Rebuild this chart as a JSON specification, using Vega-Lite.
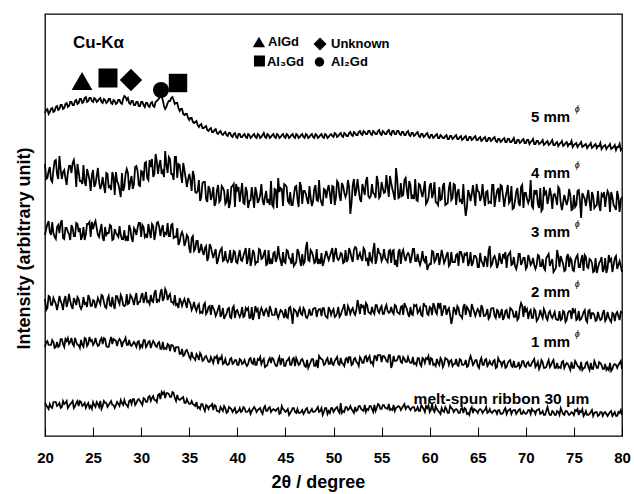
{
  "$schema": "https://vega.github.io/schema/vega-lite/v6.json",
  "width": 577,
  "height": 422,
  "autosize": {"type": "none"},
  "padding": {"left": 45, "top": 14, "right": 12, "bottom": 58},
  "config": {
    "view": {"stroke": "#000", "strokeWidth": 1.3},
    "font": "Liberation Sans"
  },
  "datasets": {
    "xrd": [
      {"x":20.00,"a":323,"b":272,"c":201,"d":137,"e":89,"f":33},
      {"x":20.25,"a":327,"b":258,"c":212,"d":128,"e":95,"f":29},
      {"x":20.50,"a":324,"b":269,"c":204,"d":139,"e":91,"f":32},
      {"x":20.75,"a":328,"b":254,"c":214,"d":131,"e":96,"f":28},
      {"x":21.00,"a":325,"b":275,"c":199,"d":135,"e":88,"f":34},
      {"x":21.25,"a":330,"b":262,"c":209,"d":126,"e":94,"f":30},
      {"x":21.50,"a":327,"b":280,"c":203,"d":140,"e":90,"f":33},
      {"x":21.75,"a":331,"b":257,"c":216,"d":132,"e":97,"f":29},
      {"x":22.00,"a":328,"b":266,"c":197,"d":136,"e":89,"f":32},
      {"x":22.25,"a":333,"b":251,"c":208,"d":129,"e":95,"f":35},
      {"x":22.50,"a":330,"b":270,"c":202,"d":142,"e":92,"f":30},
      {"x":22.75,"a":334,"b":263,"c":211,"d":130,"e":98,"f":33},
      {"x":23.00,"a":331,"b":276,"c":200,"d":138,"e":90,"f":28},
      {"x":23.25,"a":336,"b":249,"c":213,"d":131,"e":94,"f":33},
      {"x":23.50,"a":333,"b":264,"c":204,"d":137,"e":91,"f":30},
      {"x":23.75,"a":337,"b":255,"c":196,"d":127,"e":96,"f":34},
      {"x":24.00,"a":334,"b":271,"c":209,"d":139,"e":89,"f":31},
      {"x":24.25,"a":339,"b":250,"c":202,"d":133,"e":97,"f":28},
      {"x":24.50,"a":335,"b":262,"c":212,"d":141,"e":92,"f":33},
      {"x":24.75,"a":338,"b":245,"c":199,"d":130,"e":95,"f":30},
      {"x":25.00,"a":334,"b":266,"c":207,"d":136,"e":91,"f":34},
      {"x":25.25,"a":337,"b":252,"c":215,"d":128,"e":98,"f":29},
      {"x":25.50,"a":335,"b":268,"c":201,"d":138,"e":90,"f":32},
      {"x":25.75,"a":338,"b":247,"c":206,"d":132,"e":96,"f":35},
      {"x":26.00,"a":333,"b":259,"c":198,"d":140,"e":92,"f":30},
      {"x":26.25,"a":336,"b":243,"c":209,"d":129,"e":97,"f":33},
      {"x":26.50,"a":334,"b":262,"c":203,"d":137,"e":89,"f":29},
      {"x":26.75,"a":337,"b":250,"c":211,"d":131,"e":95,"f":33},
      {"x":27.00,"a":332,"b":264,"c":196,"d":139,"e":92,"f":31},
      {"x":27.25,"a":335,"b":241,"c":207,"d":127,"e":96,"f":28},
      {"x":27.50,"a":333,"b":255,"c":201,"d":140,"e":90,"f":34},
      {"x":27.75,"a":336,"b":246,"c":210,"d":132,"e":97,"f":30},
      {"x":28.00,"a":332,"b":263,"c":197,"d":138,"e":89,"f":33},
      {"x":28.25,"a":340,"b":249,"c":206,"d":130,"e":95,"f":36},
      {"x":28.50,"a":336,"b":267,"c":200,"d":142,"e":91,"f":31},
      {"x":28.75,"a":333,"b":246,"c":211,"d":133,"e":96,"f":35},
      {"x":29.00,"a":335,"b":260,"c":198,"d":139,"e":90,"f":32},
      {"x":29.25,"a":331,"b":252,"c":208,"d":131,"e":94,"f":37},
      {"x":29.50,"a":334,"b":270,"c":201,"d":143,"e":89,"f":33},
      {"x":29.75,"a":330,"b":251,"c":213,"d":134,"e":95,"f":37},
      {"x":30.00,"a":334,"b":265,"c":199,"d":140,"e":91,"f":33},
      {"x":30.25,"a":331,"b":255,"c":209,"d":133,"e":96,"f":38},
      {"x":30.50,"a":333,"b":274,"c":201,"d":144,"e":89,"f":34},
      {"x":30.75,"a":330,"b":256,"c":212,"d":135,"e":94,"f":39},
      {"x":31.00,"a":333,"b":269,"c":198,"d":141,"e":88,"f":35},
      {"x":31.25,"a":330,"b":259,"c":210,"d":134,"e":95,"f":40},
      {"x":31.50,"a":334,"b":282,"c":203,"d":146,"e":90,"f":36},
      {"x":31.75,"a":336,"b":262,"c":214,"d":136,"e":93,"f":41},
      {"x":32.00,"a":340,"b":276,"c":200,"d":143,"e":87,"f":37},
      {"x":32.25,"a":336,"b":265,"c":211,"d":135,"e":94,"f":42},
      {"x":32.50,"a":327,"b":285,"c":203,"d":147,"e":88,"f":38},
      {"x":32.75,"a":333,"b":263,"c":213,"d":136,"e":92,"f":43},
      {"x":33.00,"a":335,"b":277,"c":200,"d":142,"e":85,"f":39},
      {"x":33.25,"a":339,"b":262,"c":212,"d":134,"e":91,"f":44},
      {"x":33.50,"a":332,"b":279,"c":199,"d":141,"e":84,"f":38},
      {"x":33.75,"a":333,"b":258,"c":208,"d":132,"e":89,"f":41},
      {"x":34.00,"a":325,"b":271,"c":194,"d":138,"e":82,"f":36},
      {"x":34.25,"a":327,"b":253,"c":204,"d":130,"e":87,"f":38},
      {"x":34.50,"a":321,"b":266,"c":190,"d":137,"e":81,"f":33},
      {"x":34.75,"a":322,"b":249,"c":201,"d":128,"e":86,"f":37},
      {"x":35.00,"a":316,"b":262,"c":188,"d":135,"e":79,"f":32},
      {"x":35.25,"a":318,"b":245,"c":198,"d":126,"e":84,"f":35},
      {"x":35.50,"a":313,"b":260,"c":185,"d":134,"e":78,"f":31},
      {"x":35.75,"a":315,"b":243,"c":195,"d":125,"e":82,"f":34},
      {"x":36.00,"a":309,"b":256,"c":183,"d":132,"e":76,"f":29},
      {"x":36.25,"a":312,"b":239,"c":192,"d":124,"e":81,"f":32},
      {"x":36.50,"a":308,"b":254,"c":181,"d":131,"e":76,"f":28},
      {"x":36.75,"a":310,"b":237,"c":190,"d":122,"e":80,"f":31},
      {"x":37.00,"a":305,"b":250,"c":179,"d":129,"e":74,"f":27},
      {"x":37.25,"a":308,"b":236,"c":189,"d":121,"e":79,"f":30},
      {"x":37.50,"a":304,"b":249,"c":178,"d":128,"e":73,"f":26},
      {"x":37.75,"a":307,"b":233,"c":187,"d":120,"e":78,"f":30},
      {"x":38.00,"a":302,"b":251,"c":176,"d":127,"e":72,"f":25},
      {"x":38.25,"a":305,"b":236,"c":186,"d":119,"e":77,"f":29},
      {"x":38.50,"a":301,"b":248,"c":175,"d":128,"e":72,"f":25},
      {"x":38.75,"a":304,"b":232,"c":185,"d":120,"e":77,"f":28},
      {"x":39.00,"a":300,"b":247,"c":174,"d":127,"e":71,"f":24},
      {"x":39.25,"a":303,"b":233,"c":186,"d":119,"e":77,"f":28},
      {"x":39.50,"a":299,"b":250,"c":176,"d":128,"e":72,"f":24},
      {"x":39.75,"a":303,"b":229,"c":184,"d":118,"e":76,"f":28},
      {"x":40.00,"a":298,"b":246,"c":173,"d":126,"e":71,"f":24},
      {"x":40.25,"a":302,"b":234,"c":186,"d":119,"e":77,"f":28},
      {"x":40.50,"a":299,"b":253,"c":175,"d":129,"e":72,"f":25},
      {"x":40.75,"a":302,"b":232,"c":184,"d":120,"e":76,"f":28},
      {"x":41.00,"a":298,"b":244,"c":172,"d":126,"e":70,"f":24},
      {"x":41.25,"a":301,"b":235,"c":188,"d":118,"e":77,"f":27},
      {"x":41.50,"a":299,"b":249,"c":176,"d":129,"e":73,"f":25},
      {"x":41.75,"a":302,"b":228,"c":183,"d":121,"e":78,"f":29},
      {"x":42.00,"a":298,"b":243,"c":174,"d":125,"e":71,"f":24},
      {"x":42.25,"a":301,"b":236,"c":187,"d":117,"e":76,"f":27},
      {"x":42.50,"a":299,"b":252,"c":177,"d":128,"e":72,"f":24},
      {"x":42.75,"a":303,"b":231,"c":182,"d":120,"e":77,"f":28},
      {"x":43.00,"a":298,"b":245,"c":171,"d":127,"e":70,"f":25},
      {"x":43.25,"a":301,"b":237,"c":186,"d":119,"e":76,"f":28},
      {"x":43.50,"a":299,"b":255,"c":176,"d":126,"e":73,"f":24},
      {"x":43.75,"a":302,"b":229,"c":183,"d":121,"e":77,"f":27},
      {"x":44.00,"a":298,"b":246,"c":174,"d":128,"e":70,"f":25},
      {"x":44.25,"a":301,"b":258,"c":190,"d":118,"e":76,"f":28},
      {"x":44.50,"a":299,"b":248,"c":175,"d":126,"e":71,"f":23},
      {"x":44.75,"a":302,"b":230,"c":184,"d":122,"e":77,"f":27},
      {"x":45.00,"a":298,"b":251,"c":173,"d":127,"e":70,"f":24},
      {"x":45.25,"a":301,"b":235,"c":185,"d":118,"e":76,"f":27},
      {"x":45.50,"a":299,"b":244,"c":177,"d":129,"e":71,"f":23},
      {"x":45.75,"a":302,"b":231,"c":183,"d":112,"e":77,"f":28},
      {"x":46.00,"a":298,"b":249,"c":172,"d":126,"e":70,"f":24},
      {"x":46.25,"a":301,"b":237,"c":187,"d":119,"e":75,"f":27},
      {"x":46.50,"a":299,"b":254,"c":176,"d":128,"e":72,"f":23},
      {"x":46.75,"a":302,"b":232,"c":182,"d":121,"e":77,"f":26},
      {"x":47.00,"a":298,"b":245,"c":174,"d":126,"e":70,"f":24},
      {"x":47.25,"a":301,"b":236,"c":194,"d":118,"e":76,"f":28},
      {"x":47.50,"a":299,"b":250,"c":175,"d":127,"e":71,"f":23},
      {"x":47.75,"a":302,"b":230,"c":184,"d":121,"e":77,"f":27},
      {"x":48.00,"a":298,"b":247,"c":173,"d":128,"e":70,"f":24},
      {"x":48.25,"a":301,"b":236,"c":187,"d":119,"e":76,"f":27},
      {"x":48.50,"a":299,"b":256,"c":177,"d":127,"e":80,"f":24},
      {"x":48.75,"a":302,"b":233,"c":183,"d":120,"e":77,"f":28},
      {"x":49.00,"a":298,"b":247,"c":174,"d":128,"e":71,"f":24},
      {"x":49.25,"a":301,"b":238,"c":185,"d":119,"e":76,"f":28},
      {"x":49.50,"a":299,"b":251,"c":176,"d":129,"e":72,"f":25},
      {"x":49.75,"a":302,"b":232,"c":184,"d":121,"e":78,"f":28},
      {"x":50.00,"a":299,"b":249,"c":174,"d":127,"e":71,"f":24},
      {"x":50.25,"a":302,"b":238,"c":188,"d":120,"e":77,"f":28},
      {"x":50.50,"a":300,"b":253,"c":176,"d":129,"e":72,"f":25},
      {"x":50.75,"a":303,"b":235,"c":183,"d":121,"e":78,"f":33},
      {"x":51.00,"a":299,"b":250,"c":173,"d":128,"e":72,"f":25},
      {"x":51.25,"a":302,"b":239,"c":186,"d":121,"e":77,"f":29},
      {"x":51.50,"a":300,"b":256,"c":177,"d":130,"e":73,"f":26},
      {"x":51.75,"a":304,"b":222,"c":184,"d":122,"e":79,"f":30},
      {"x":52.00,"a":300,"b":251,"c":174,"d":128,"e":72,"f":25},
      {"x":52.25,"a":303,"b":240,"c":189,"d":121,"e":78,"f":29},
      {"x":52.50,"a":301,"b":257,"c":176,"d":136,"e":73,"f":26},
      {"x":52.75,"a":305,"b":237,"c":183,"d":122,"e":79,"f":30},
      {"x":53.00,"a":301,"b":252,"c":175,"d":129,"e":73,"f":26},
      {"x":53.25,"a":304,"b":241,"c":186,"d":121,"e":79,"f":31},
      {"x":53.50,"a":302,"b":259,"c":177,"d":131,"e":74,"f":27},
      {"x":53.75,"a":305,"b":238,"c":184,"d":123,"e":80,"f":30},
      {"x":54.00,"a":301,"b":252,"c":174,"d":129,"e":74,"f":27},
      {"x":54.25,"a":304,"b":242,"c":193,"d":122,"e":80,"f":31},
      {"x":54.50,"a":302,"b":260,"c":177,"d":131,"e":75,"f":28},
      {"x":54.75,"a":306,"b":238,"c":183,"d":123,"e":81,"f":31},
      {"x":55.00,"a":301,"b":254,"c":175,"d":130,"e":74,"f":27},
      {"x":55.25,"a":304,"b":243,"c":187,"d":122,"e":80,"f":31},
      {"x":55.50,"a":302,"b":261,"c":176,"d":131,"e":75,"f":28},
      {"x":55.75,"a":306,"b":239,"c":185,"d":123,"e":81,"f":32},
      {"x":56.00,"a":301,"b":253,"c":173,"d":129,"e":68,"f":27},
      {"x":56.25,"a":305,"b":242,"c":186,"d":122,"e":80,"f":31},
      {"x":56.50,"a":302,"b":268,"c":176,"d":130,"e":75,"f":28},
      {"x":56.75,"a":305,"b":238,"c":184,"d":123,"e":80,"f":30},
      {"x":57.00,"a":301,"b":253,"c":172,"d":129,"e":74,"f":26},
      {"x":57.25,"a":304,"b":241,"c":186,"d":121,"e":79,"f":30},
      {"x":57.50,"a":301,"b":258,"c":175,"d":130,"e":74,"f":27},
      {"x":57.75,"a":305,"b":237,"c":183,"d":122,"e":79,"f":30},
      {"x":58.00,"a":300,"b":251,"c":173,"d":129,"e":73,"f":26},
      {"x":58.25,"a":303,"b":240,"c":187,"d":121,"e":79,"f":29},
      {"x":58.50,"a":301,"b":257,"c":175,"d":130,"e":73,"f":25},
      {"x":58.75,"a":304,"b":235,"c":182,"d":123,"e":78,"f":29},
      {"x":59.00,"a":299,"b":251,"c":171,"d":128,"e":72,"f":25},
      {"x":59.25,"a":302,"b":239,"c":185,"d":120,"e":78,"f":29},
      {"x":59.50,"a":300,"b":255,"c":174,"d":130,"e":73,"f":24},
      {"x":59.75,"a":303,"b":234,"c":166,"d":122,"e":77,"f":28},
      {"x":60.00,"a":298,"b":250,"c":172,"d":129,"e":71,"f":24},
      {"x":60.25,"a":301,"b":238,"c":185,"d":121,"e":77,"f":32},
      {"x":60.50,"a":299,"b":254,"c":174,"d":130,"e":72,"f":24},
      {"x":60.75,"a":302,"b":233,"c":182,"d":122,"e":77,"f":27},
      {"x":61.00,"a":298,"b":249,"c":171,"d":129,"e":71,"f":24},
      {"x":61.25,"a":300,"b":237,"c":186,"d":120,"e":76,"f":28},
      {"x":61.50,"a":298,"b":253,"c":173,"d":130,"e":72,"f":24},
      {"x":61.75,"a":301,"b":232,"c":181,"d":121,"e":77,"f":27},
      {"x":62.00,"a":297,"b":248,"c":170,"d":128,"e":71,"f":23},
      {"x":62.25,"a":300,"b":236,"c":184,"d":112,"e":76,"f":28},
      {"x":62.50,"a":298,"b":252,"c":174,"d":129,"e":72,"f":24},
      {"x":62.75,"a":301,"b":231,"c":181,"d":121,"e":77,"f":27},
      {"x":63.00,"a":297,"b":247,"c":170,"d":128,"e":70,"f":23},
      {"x":63.25,"a":300,"b":236,"c":184,"d":120,"e":76,"f":27},
      {"x":63.50,"a":297,"b":252,"c":173,"d":129,"e":71,"f":23},
      {"x":63.75,"a":300,"b":220,"c":181,"d":121,"e":76,"f":27},
      {"x":64.00,"a":296,"b":246,"c":170,"d":127,"e":70,"f":23},
      {"x":64.25,"a":299,"b":235,"c":184,"d":119,"e":80,"f":27},
      {"x":64.50,"a":297,"b":251,"c":173,"d":128,"e":71,"f":23},
      {"x":64.75,"a":300,"b":230,"c":180,"d":120,"e":76,"f":26},
      {"x":65.00,"a":296,"b":245,"c":169,"d":127,"e":70,"f":23},
      {"x":65.25,"a":299,"b":235,"c":183,"d":119,"e":75,"f":27},
      {"x":65.50,"a":296,"b":252,"c":173,"d":128,"e":71,"f":23},
      {"x":65.75,"a":299,"b":230,"c":180,"d":120,"e":76,"f":26},
      {"x":66.00,"a":295,"b":245,"c":169,"d":127,"e":70,"f":23},
      {"x":66.25,"a":298,"b":234,"c":190,"d":119,"e":75,"f":27},
      {"x":66.50,"a":296,"b":251,"c":172,"d":128,"e":71,"f":23},
      {"x":66.75,"a":299,"b":229,"c":180,"d":120,"e":76,"f":26},
      {"x":67.00,"a":294,"b":245,"c":168,"d":126,"e":69,"f":22},
      {"x":67.25,"a":297,"b":234,"c":183,"d":118,"e":75,"f":26},
      {"x":67.50,"a":295,"b":250,"c":172,"d":127,"e":70,"f":22},
      {"x":67.75,"a":298,"b":229,"c":179,"d":119,"e":75,"f":26},
      {"x":68.00,"a":294,"b":244,"c":168,"d":126,"e":69,"f":22},
      {"x":68.25,"a":297,"b":233,"c":182,"d":118,"e":75,"f":26},
      {"x":68.50,"a":294,"b":250,"c":171,"d":127,"e":70,"f":22},
      {"x":68.75,"a":298,"b":228,"c":179,"d":119,"e":75,"f":26},
      {"x":69.00,"a":293,"b":244,"c":167,"d":125,"e":69,"f":22},
      {"x":69.25,"a":296,"b":233,"c":182,"d":118,"e":74,"f":26},
      {"x":69.50,"a":294,"b":249,"c":171,"d":133,"e":70,"f":22},
      {"x":69.75,"a":297,"b":228,"c":178,"d":119,"e":75,"f":25},
      {"x":70.00,"a":293,"b":243,"c":167,"d":125,"e":69,"f":22},
      {"x":70.25,"a":296,"b":233,"c":181,"d":117,"e":74,"f":26},
      {"x":70.50,"a":294,"b":256,"c":171,"d":126,"e":70,"f":22},
      {"x":70.75,"a":297,"b":228,"c":178,"d":118,"e":75,"f":25},
      {"x":71.00,"a":292,"b":243,"c":167,"d":125,"e":69,"f":22},
      {"x":71.25,"a":295,"b":232,"c":181,"d":117,"e":74,"f":26},
      {"x":71.50,"a":293,"b":248,"c":170,"d":126,"e":70,"f":22},
      {"x":71.75,"a":296,"b":227,"c":177,"d":118,"e":74,"f":25},
      {"x":72.00,"a":292,"b":242,"c":166,"d":124,"e":68,"f":21},
      {"x":72.25,"a":295,"b":232,"c":180,"d":116,"e":73,"f":29},
      {"x":72.50,"a":292,"b":248,"c":170,"d":125,"e":69,"f":21},
      {"x":72.75,"a":296,"b":227,"c":177,"d":118,"e":74,"f":25},
      {"x":73.00,"a":291,"b":242,"c":166,"d":124,"e":68,"f":21},
      {"x":73.25,"a":294,"b":231,"c":186,"d":116,"e":73,"f":25},
      {"x":73.50,"a":292,"b":247,"c":169,"d":125,"e":69,"f":21},
      {"x":73.75,"a":295,"b":226,"c":176,"d":117,"e":74,"f":25},
      {"x":74.00,"a":291,"b":241,"c":165,"d":124,"e":68,"f":21},
      {"x":74.25,"a":294,"b":231,"c":179,"d":116,"e":73,"f":25},
      {"x":74.50,"a":292,"b":247,"c":169,"d":125,"e":69,"f":21},
      {"x":74.75,"a":295,"b":226,"c":176,"d":117,"e":74,"f":24},
      {"x":75.00,"a":291,"b":241,"c":165,"d":124,"e":68,"f":21},
      {"x":75.25,"a":293,"b":231,"c":179,"d":116,"e":73,"f":25},
      {"x":75.50,"a":291,"b":246,"c":169,"d":125,"e":69,"f":21},
      {"x":75.75,"a":294,"b":218,"c":176,"d":117,"e":74,"f":24},
      {"x":76.00,"a":290,"b":240,"c":165,"d":124,"e":68,"f":20},
      {"x":76.25,"a":292,"b":230,"c":179,"d":116,"e":73,"f":25},
      {"x":76.50,"a":290,"b":246,"c":168,"d":125,"e":69,"f":21},
      {"x":76.75,"a":293,"b":225,"c":176,"d":117,"e":73,"f":24},
      {"x":77.00,"a":289,"b":240,"c":164,"d":123,"e":67,"f":20},
      {"x":77.25,"a":292,"b":230,"c":178,"d":115,"e":72,"f":24},
      {"x":77.50,"a":290,"b":245,"c":168,"d":124,"e":68,"f":20},
      {"x":77.75,"a":293,"b":225,"c":175,"d":116,"e":73,"f":24},
      {"x":78.00,"a":289,"b":240,"c":164,"d":123,"e":67,"f":20},
      {"x":78.25,"a":291,"b":229,"c":178,"d":115,"e":72,"f":24},
      {"x":78.50,"a":289,"b":245,"c":168,"d":124,"e":68,"f":20},
      {"x":78.75,"a":292,"b":224,"c":175,"d":116,"e":73,"f":24},
      {"x":79.00,"a":288,"b":239,"c":164,"d":123,"e":67,"f":20},
      {"x":79.25,"a":291,"b":229,"c":178,"d":115,"e":72,"f":24},
      {"x":79.50,"a":289,"b":245,"c":167,"d":124,"e":68,"f":20},
      {"x":79.75,"a":292,"b":224,"c":175,"d":116,"e":73,"f":23},
      {"x":80.00,"a":288,"b":239,"c":164,"d":123,"e":67,"f":21},
      {"x":20.125,"a":326,"b":257,"c":207,"d":126,"e":94,"f":31},
      {"x":20.375,"a":322,"b":265,"c":215,"d":140,"e":91,"f":27},
      {"x":20.625,"a":327,"b":256,"c":201,"d":131,"e":91,"f":29},
      {"x":20.875,"a":324,"b":266,"c":203,"d":138,"e":94,"f":34},
      {"x":21.125,"a":329,"b":276,"c":197,"d":132,"e":89,"f":34},
      {"x":21.375,"a":326,"b":257,"c":211,"d":132,"e":89,"f":31},
      {"x":21.625,"a":331,"b":267,"c":213,"d":135,"e":97,"f":28},
      {"x":21.875,"a":327,"b":264,"c":198,"d":126,"e":92,"f":35},
      {"x":22.125,"a":332,"b":258,"c":208,"d":140,"e":97,"f":33},
      {"x":22.375,"a":329,"b":263,"c":204,"d":134,"e":98,"f":28},
      {"x":22.625,"a":334,"b":270,"c":196,"d":135,"e":94,"f":32},
      {"x":22.875,"a":331,"b":273,"c":208,"d":127,"e":92,"f":35},
      {"x":23.125,"a":335,"b":267,"c":200,"d":135,"e":98,"f":30},
      {"x":23.375,"a":332,"b":272,"c":212,"d":139,"e":91,"f":35},
      {"x":23.625,"a":337,"b":255,"c":208,"d":130,"e":88,"f":35},
      {"x":23.875,"a":333,"b":252,"c":200,"d":130,"e":91,"f":30},
      {"x":24.125,"a":338,"b":254,"c":196,"d":132,"e":98,"f":33},
      {"x":24.375,"a":334,"b":267,"c":212,"d":129,"e":90,"f":31},
      {"x":24.625,"a":338,"b":256,"c":214,"d":138,"e":99,"f":28},
      {"x":24.875,"a":335,"b":261,"c":214,"d":130,"e":96,"f":27},
      {"x":25.125,"a":338,"b":249,"c":212,"d":135,"e":93,"f":31},
      {"x":25.375,"a":334,"b":260,"c":208,"d":132,"e":93,"f":34},
      {"x":25.625,"a":337,"b":254,"c":199,"d":135,"e":91,"f":29},
      {"x":25.875,"a":334,"b":251,"c":212,"d":141,"e":98,"f":27},
      {"x":26.125,"a":337,"b":250,"c":195,"d":134,"e":98,"f":35},
      {"x":26.375,"a":333,"b":263,"c":201,"d":128,"e":90,"f":33},
      {"x":26.625,"a":337,"b":249,"c":203,"d":140,"e":89,"f":31},
      {"x":26.875,"a":333,"b":246,"c":210,"d":130,"e":99,"f":35},
      {"x":27.125,"a":336,"b":259,"c":197,"d":131,"e":97,"f":31},
      {"x":27.375,"a":332,"b":264,"c":203,"d":140,"e":95,"f":31},
      {"x":27.625,"a":336,"b":252,"c":199,"d":135,"e":95,"f":32},
      {"x":27.875,"a":333,"b":239,"c":201,"d":141,"e":95,"f":36},
      {"x":28.125,"a":337,"b":245,"c":197,"d":131,"e":94,"f":31},
      {"x":28.375,"a":339,"b":262,"c":195,"d":131,"e":98,"f":32},
      {"x":28.625,"a":338,"b":263,"c":195,"d":132,"e":91,"f":29},
      {"x":28.875,"a":332,"b":254,"c":207,"d":141,"e":91,"f":36},
      {"x":29.125,"a":335,"b":247,"c":194,"d":136,"e":92,"f":37},
      {"x":29.375,"a":331,"b":269,"c":206,"d":138,"e":92,"f":31},
      {"x":29.625,"a":334,"b":265,"c":208,"d":131,"e":94,"f":36},
      {"x":29.875,"a":330,"b":250,"c":213,"d":134,"e":88,"f":35},
      {"x":30.125,"a":334,"b":264,"c":211,"d":143,"e":89,"f":31},
      {"x":30.375,"a":329,"b":273,"c":199,"d":137,"e":96,"f":37},
      {"x":30.625,"a":333,"b":258,"c":198,"d":134,"e":91,"f":34},
      {"x":30.875,"a":329,"b":276,"c":204,"d":132,"e":95,"f":40},
      {"x":31.125,"a":334,"b":277,"c":212,"d":135,"e":92,"f":38},
      {"x":31.375,"a":329,"b":262,"c":196,"d":143,"e":93,"f":36},
      {"x":31.625,"a":335,"b":275,"c":213,"d":133,"e":89,"f":34},
      {"x":31.875,"a":338,"b":271,"c":209,"d":135,"e":94,"f":42},
      {"x":32.125,"a":339,"b":262,"c":207,"d":147,"e":87,"f":44},
      {"x":32.375,"a":330,"b":259,"c":199,"d":138,"e":87,"f":44},
      {"x":32.625,"a":329,"b":271,"c":202,"d":144,"e":87,"f":43},
      {"x":32.875,"a":335,"b":279,"c":200,"d":140,"e":91,"f":42},
      {"x":33.125,"a":338,"b":262,"c":211,"d":134,"e":91,"f":39},
      {"x":33.375,"a":336,"b":256,"c":198,"d":132,"e":89,"f":43},
      {"x":33.625,"a":333,"b":279,"c":199,"d":131,"e":89,"f":35},
      {"x":33.875,"a":328,"b":272,"c":191,"d":128,"e":89,"f":37},
      {"x":34.125,"a":327,"b":262,"c":201,"d":135,"e":82,"f":37},
      {"x":34.375,"a":322,"b":273,"c":200,"d":134,"e":80,"f":39},
      {"x":34.625,"a":322,"b":258,"c":194,"d":133,"e":85,"f":33},
      {"x":34.875,"a":318,"b":256,"c":199,"d":138,"e":83,"f":34},
      {"x":35.125,"a":318,"b":256,"c":183,"d":132,"e":77,"f":32},
      {"x":35.375,"a":314,"b":265,"c":200,"d":129,"e":79,"f":32},
      {"x":35.625,"a":314,"b":244,"c":187,"d":128,"e":76,"f":30},
      {"x":35.875,"a":311,"b":245,"c":195,"d":130,"e":80,"f":28},
      {"x":36.125,"a":311,"b":235,"c":186,"d":123,"e":83,"f":27},
      {"x":36.375,"a":308,"b":253,"c":185,"d":123,"e":75,"f":32},
      {"x":36.625,"a":309,"b":254,"c":188,"d":133,"e":79,"f":25},
      {"x":36.875,"a":306,"b":234,"c":175,"d":124,"e":77,"f":30},
      {"x":37.125,"a":307,"b":247,"c":192,"d":130,"e":74,"f":30},
      {"x":37.375,"a":304,"b":241,"c":183,"d":131,"e":76,"f":32},
      {"x":37.625,"a":306,"b":230,"c":183,"d":125,"e":79,"f":31},
      {"x":37.875,"a":303,"b":245,"c":172,"d":123,"e":80,"f":25},
      {"x":38.125,"a":304,"b":234,"c":182,"d":131,"e":78,"f":24},
      {"x":38.375,"a":302,"b":250,"c":188,"d":122,"e":80,"f":27},
      {"x":38.625,"a":303,"b":245,"c":176,"d":117,"e":73,"f":30},
      {"x":38.875,"a":301,"b":234,"c":176,"d":122,"e":72,"f":23},
      {"x":39.125,"a":303,"b":228,"c":177,"d":128,"e":72,"f":29},
      {"x":39.375,"a":300,"b":249,"c":173,"d":118,"e":78,"f":27},
      {"x":39.625,"a":302,"b":252,"c":185,"d":130,"e":73,"f":26},
      {"x":39.875,"a":299,"b":252,"c":174,"d":125,"e":76,"f":23},
      {"x":40.125,"a":302,"b":249,"c":180,"d":122,"e":71,"f":25},
      {"x":40.375,"a":299,"b":244,"c":176,"d":122,"e":76,"f":24},
      {"x":40.625,"a":301,"b":233,"c":180,"d":119,"e":73,"f":29},
      {"x":40.875,"a":299,"b":249,"c":188,"d":128,"e":72,"f":24},
      {"x":41.125,"a":302,"b":228,"c":178,"d":128,"e":72,"f":25},
      {"x":41.375,"a":298,"b":236,"c":170,"d":118,"e":78,"f":22},
      {"x":41.625,"a":301,"b":239,"c":186,"d":116,"e":72,"f":27},
      {"x":41.875,"a":299,"b":249,"c":172,"d":130,"e":71,"f":27},
      {"x":42.125,"a":302,"b":233,"c":174,"d":127,"e":77,"f":26},
      {"x":42.375,"a":298,"b":241,"c":186,"d":124,"e":79,"f":28},
      {"x":42.625,"a":301,"b":236,"c":178,"d":125,"e":75,"f":22},
      {"x":42.875,"a":299,"b":239,"c":186,"d":125,"e":69,"f":30},
      {"x":43.125,"a":302,"b":233,"c":172,"d":124,"e":71,"f":25},
      {"x":43.375,"a":298,"b":231,"c":172,"d":130,"e":78,"f":29},
      {"x":43.625,"a":301,"b":231,"c":172,"d":121,"e":78,"f":26},
      {"x":43.875,"a":299,"b":247,"c":184,"d":121,"e":73,"f":26},
      {"x":44.125,"a":302,"b":228,"c":178,"d":122,"e":70,"f":27},
      {"x":44.375,"a":298,"b":244,"c":180,"d":122,"e":79,"f":22},
      {"x":44.625,"a":301,"b":247,"c":170,"d":125,"e":77,"f":30},
      {"x":44.875,"a":299,"b":252,"c":174,"d":118,"e":70,"f":26},
      {"x":45.125,"a":302,"b":249,"c":186,"d":119,"e":75,"f":25},
      {"x":45.375,"a":298,"b":233,"c":178,"d":128,"e":78,"f":21},
      {"x":45.625,"a":301,"b":231,"c":172,"d":122,"e":71,"f":25},
      {"x":45.875,"a":299,"b":240,"c":170,"d":127,"e":78,"f":28},
      {"x":46.125,"a":302,"b":250,"c":174,"d":124,"e":78,"f":23},
      {"x":46.375,"a":298,"b":229,"c":184,"d":125,"e":71,"f":23},
      {"x":46.625,"a":301,"b":250,"c":170,"d":122,"e":76,"f":24},
      {"x":46.875,"a":299,"b":245,"c":172,"d":128,"e":74,"f":22},
      {"x":47.125,"a":302,"b":242,"c":188,"d":119,"e":69,"f":27},
      {"x":47.375,"a":298,"b":232,"c":176,"d":121,"e":68,"f":23},
      {"x":47.625,"a":301,"b":238,"c":186,"d":121,"e":74,"f":25},
      {"x":47.875,"a":299,"b":235,"c":180,"d":127,"e":77,"f":24},
      {"x":48.125,"a":302,"b":251,"c":174,"d":128,"e":70,"f":25},
      {"x":48.375,"a":298,"b":235,"c":172,"d":125,"e":68,"f":29},
      {"x":48.625,"a":301,"b":238,"c":172,"d":127,"e":78,"f":25},
      {"x":48.875,"a":299,"b":230,"c":170,"d":128,"e":76,"f":21},
      {"x":49.125,"a":302,"b":246,"c":180,"d":121,"e":72,"f":28},
      {"x":49.375,"a":298,"b":246,"c":180,"d":118,"e":78,"f":22},
      {"x":49.625,"a":301,"b":242,"c":180,"d":126,"e":72,"f":23},
      {"x":49.875,"a":300,"b":250,"c":188,"d":125,"e":72,"f":28},
      {"x":50.125,"a":303,"b":231,"c":182,"d":119,"e":75,"f":26},
      {"x":50.375,"a":299,"b":255,"c":178,"d":123,"e":79,"f":29},
      {"x":50.625,"a":302,"b":240,"c":178,"d":119,"e":71,"f":23},
      {"x":50.875,"a":300,"b":253,"c":182,"d":125,"e":73,"f":23},
      {"x":51.125,"a":303,"b":243,"c":174,"d":132,"e":70,"f":24},
      {"x":51.375,"a":300,"b":243,"c":174,"d":121,"e":78,"f":29},
      {"x":51.625,"a":303,"b":249,"c":188,"d":127,"e":79,"f":27},
      {"x":51.875,"a":301,"b":233,"c":178,"d":126,"e":71,"f":27},
      {"x":52.125,"a":304,"b":257,"c":186,"d":123,"e":77,"f":23},
      {"x":52.375,"a":301,"b":246,"c":188,"d":126,"e":74,"f":25},
      {"x":52.625,"a":304,"b":246,"c":180,"d":130,"e":70,"f":30},
      {"x":52.875,"a":302,"b":234,"c":178,"d":132,"e":77,"f":27},
      {"x":53.125,"a":305,"b":247,"c":188,"d":130,"e":73,"f":25},
      {"x":53.375,"a":302,"b":255,"c":176,"d":133,"e":80,"f":24},
      {"x":53.625,"a":305,"b":240,"c":170,"d":124,"e":78,"f":26},
      {"x":53.875,"a":302,"b":240,"c":176,"d":122,"e":73,"f":30},
      {"x":54.125,"a":305,"b":243,"c":186,"d":124,"e":71,"f":24},
      {"x":54.375,"a":302,"b":238,"c":172,"d":131,"e":80,"f":25},
      {"x":54.625,"a":305,"b":254,"c":188,"d":125,"e":81,"f":32},
      {"x":54.875,"a":302,"b":240,"c":182,"d":128,"e":81,"f":27},
      {"x":55.125,"a":305,"b":248,"c":178,"d":122,"e":80,"f":31},
      {"x":55.375,"a":302,"b":244,"c":178,"d":128,"e":78,"f":28},
      {"x":55.625,"a":305,"b":249,"c":174,"d":125,"e":74,"f":27},
      {"x":55.875,"a":302,"b":260,"c":186,"d":124,"e":81,"f":26},
      {"x":56.125,"a":305,"b":247,"c":185,"d":124,"e":72,"f":26},
      {"x":56.375,"a":302,"b":236,"c":171,"d":131,"e":75,"f":25},
      {"x":56.625,"a":305,"b":257,"c":169,"d":124,"e":76,"f":29},
      {"x":56.875,"a":302,"b":239,"c":187,"d":122,"e":80,"f":29},
      {"x":57.125,"a":304,"b":240,"c":183,"d":130,"e":73,"f":28},
      {"x":57.375,"a":301,"b":256,"c":179,"d":133,"e":77,"f":32},
      {"x":57.625,"a":304,"b":246,"c":181,"d":127,"e":74,"f":29},
      {"x":57.875,"a":301,"b":255,"c":181,"d":119,"e":75,"f":28},
      {"x":58.125,"a":303,"b":237,"c":179,"d":122,"e":73,"f":28},
      {"x":58.375,"a":300,"b":237,"c":187,"d":131,"e":72,"f":29},
      {"x":58.625,"a":303,"b":236,"c":175,"d":131,"e":71,"f":26},
      {"x":58.875,"a":300,"b":252,"c":175,"d":125,"e":78,"f":25},
      {"x":59.125,"a":302,"b":244,"c":176,"d":121,"e":70,"f":31},
      {"x":59.375,"a":299,"b":246,"c":176,"d":133,"e":77,"f":27},
      {"x":59.625,"a":302,"b":232,"c":180,"d":130,"e":78,"f":30},
      {"x":59.875,"a":299,"b":238,"c":170,"d":121,"e":80,"f":31},
      {"x":60.125,"a":301,"b":253,"c":172,"d":128,"e":78,"f":26},
      {"x":60.375,"a":298,"b":243,"c":184,"d":133,"e":71,"f":26},
      {"x":60.625,"a":301,"b":234,"c":176,"d":124,"e":70,"f":30},
      {"x":60.875,"a":298,"b":231,"c":182,"d":133,"e":73,"f":25},
      {"x":61.125,"a":301,"b":236,"c":178,"d":133,"e":78,"f":22},
      {"x":61.375,"a":298,"b":250,"c":180,"d":124,"e":69,"f":25},
      {"x":61.625,"a":300,"b":231,"c":176,"d":130,"e":78,"f":29},
      {"x":61.875,"a":297,"b":233,"c":184,"d":126,"e":76,"f":23},
      {"x":62.125,"a":300,"b":254,"c":172,"d":121,"e":75,"f":30},
      {"x":62.375,"a":297,"b":238,"c":174,"d":118,"e":70,"f":27},
      {"x":62.625,"a":300,"b":251,"c":174,"d":126,"e":72,"f":26},
      {"x":62.875,"a":297,"b":243,"c":182,"d":130,"e":71,"f":26},
      {"x":63.125,"a":299,"b":235,"c":184,"d":121,"e":77,"f":23},
      {"x":63.375,"a":296,"b":232,"c":180,"d":118,"e":71,"f":28},
      {"x":63.625,"a":299,"b":232,"c":182,"d":132,"e":72,"f":28},
      {"x":63.875,"a":296,"b":229,"c":184,"d":129,"e":69,"f":22},
      {"x":64.125,"a":299,"b":242,"c":174,"d":124,"e":76,"f":21},
      {"x":64.375,"a":296,"b":242,"c":170,"d":132,"e":76,"f":29},
      {"x":64.625,"a":299,"b":241,"c":180,"d":124,"e":73,"f":27},
      {"x":64.875,"a":296,"b":252,"c":178,"d":124,"e":76,"f":25},
      {"x":65.125,"a":298,"b":244,"c":169,"d":125,"e":68,"f":26},
      {"x":65.375,"a":295,"b":239,"c":175,"d":131,"e":78,"f":26},
      {"x":65.625,"a":298,"b":239,"c":169,"d":120,"e":71,"f":25},
      {"x":65.875,"a":295,"b":244,"c":177,"d":122,"e":77,"f":29},
      {"x":66.125,"a":298,"b":233,"c":185,"d":117,"e":72,"f":24},
      {"x":66.375,"a":295,"b":233,"c":170,"d":127,"e":72,"f":24},
      {"x":66.625,"a":298,"b":251,"c":178,"d":128,"e":75,"f":25},
      {"x":66.875,"a":295,"b":238,"c":176,"d":118,"e":68,"f":25},
      {"x":67.125,"a":297,"b":248,"c":172,"d":125,"e":78,"f":26},
      {"x":67.375,"a":294,"b":251,"c":176,"d":122,"e":74,"f":22},
      {"x":67.625,"a":297,"b":240,"c":182,"d":116,"e":74,"f":23},
      {"x":67.875,"a":294,"b":238,"c":184,"d":125,"e":68,"f":28},
      {"x":68.125,"a":297,"b":251,"c":180,"d":119,"e":73,"f":25},
      {"x":68.375,"a":294,"b":235,"c":184,"d":128,"e":76,"f":27},
      {"x":68.625,"a":296,"b":227,"c":172,"d":125,"e":69,"f":25},
      {"x":68.875,"a":293,"b":235,"c":170,"d":119,"e":69,"f":26},
      {"x":69.125,"a":296,"b":248,"c":172,"d":116,"e":70,"f":24},
      {"x":69.375,"a":293,"b":230,"c":182,"d":128,"e":68,"f":27},
      {"x":69.625,"a":296,"b":251,"c":174,"d":130,"e":75,"f":22},
      {"x":69.875,"a":293,"b":243,"c":178,"d":130,"e":70,"f":23},
      {"x":70.125,"a":296,"b":237,"c":169,"d":127,"e":73,"f":23},
      {"x":70.375,"a":292,"b":237,"c":177,"d":124,"e":70,"f":26},
      {"x":70.625,"a":295,"b":230,"c":173,"d":118,"e":73,"f":27},
      {"x":70.875,"a":292,"b":246,"c":171,"d":127,"e":77,"f":25},
      {"x":71.125,"a":295,"b":246,"c":171,"d":115,"e":71,"f":26},
      {"x":71.375,"a":292,"b":228,"c":180,"d":120,"e":67,"f":27},
      {"x":71.625,"a":294,"b":225,"c":170,"d":121,"e":76,"f":23},
      {"x":71.875,"a":291,"b":249,"c":168,"d":127,"e":68,"f":21},
      {"x":72.125,"a":294,"b":244,"c":178,"d":118,"e":69,"f":25},
      {"x":72.375,"a":291,"b":238,"c":182,"d":123,"e":76,"f":24},
      {"x":72.625,"a":294,"b":241,"c":174,"d":120,"e":71,"f":21},
      {"x":72.875,"a":291,"b":241,"c":164,"d":121,"e":76,"f":24},
      {"x":73.125,"a":293,"b":238,"c":168,"d":117,"e":68,"f":21},
      {"x":73.375,"a":290,"b":249,"c":180,"d":116,"e":68,"f":24},
      {"x":73.625,"a":293,"b":233,"c":180,"d":116,"e":68,"f":28},
      {"x":73.875,"a":290,"b":233,"c":172,"d":125,"e":75,"f":22},
      {"x":74.125,"a":293,"b":236,"c":166,"d":114,"e":71,"f":25},
      {"x":74.375,"a":290,"b":236,"c":182,"d":123,"e":72,"f":23},
      {"x":74.625,"a":292,"b":241,"c":178,"d":125,"e":66,"f":22},
      {"x":74.875,"a":289,"b":227,"c":166,"d":128,"e":68,"f":23},
      {"x":75.125,"a":292,"b":229,"c":175,"d":126,"e":75,"f":26},
      {"x":75.375,"a":289,"b":245,"c":181,"d":117,"e":70,"f":27},
      {"x":75.625,"a":292,"b":235,"c":169,"d":116,"e":67,"f":25},
      {"x":75.875,"a":289,"b":243,"c":181,"d":120,"e":66,"f":27},
      {"x":76.125,"a":291,"b":237,"c":181,"d":126,"e":68,"f":22},
      {"x":76.375,"a":288,"b":239,"c":169,"d":114,"e":74,"f":21},
      {"x":76.625,"a":291,"b":234,"c":177,"d":126,"e":66,"f":22},
      {"x":76.875,"a":288,"b":244,"c":173,"d":123,"e":67,"f":26},
      {"x":77.125,"a":291,"b":228,"c":165,"d":121,"e":75,"f":23},
      {"x":77.375,"a":288,"b":231,"c":163,"d":116,"e":68,"f":24},
      {"x":77.625,"a":290,"b":231,"c":173,"d":119,"e":74,"f":21},
      {"x":77.875,"a":287,"b":242,"c":179,"d":117,"e":71,"f":24},
      {"x":78.125,"a":290,"b":244,"c":167,"d":126,"e":67,"f":23},
      {"x":78.375,"a":287,"b":239,"c":163,"d":117,"e":66,"f":22},
      {"x":78.625,"a":290,"b":242,"c":181,"d":119,"e":66,"f":22},
      {"x":78.875,"a":287,"b":244,"c":177,"d":114,"e":65,"f":25},
      {"x":79.125,"a":289,"b":231,"c":171,"d":122,"e":71,"f":22},
      {"x":79.375,"a":286,"b":226,"c":180,"d":122,"e":71,"f":20},
      {"x":79.625,"a":289,"b":239,"c":171,"d":120,"e":71,"f":24},
      {"x":79.875,"a":286,"b":236,"c":170,"d":124,"e":75,"f":26}
    ],
    "bigmarks": [
      {"x":23.85,"y":355,"m":"triangle-up","s":430},
      {"x":26.55,"y":358,"m":"square","s":361},
      {"x":28.94,"y":356,"m":"diamond","s":500},
      {"x":32.06,"y":346,"m":"circle","s":256},
      {"x":33.83,"y":353,"m":"square","s":340}
    ],
    "legmarks": [
      {"x":42.25,"y":394,"m":"triangle-up","s":150},
      {"x":48.6,"y":392,"m":"diamond","s":170},
      {"x":42.3,"y":375,"m":"square","s":121},
      {"x":48.54,"y":374,"m":"circle","s":90}
    ],
    "legtext": [
      {"x":43.19,"y":394,"t":"AlGd"},
      {"x":49.74,"y":392,"t":"Unknown"},
      {"x":43.08,"y":374,"t":"Al₃Gd"},
      {"x":49.74,"y":374,"t":"Al₂Gd"}
    ],
    "labels": [
      {"x":74.6,"y":319,"t":"5 mm"},
      {"x":74.6,"y":263,"t":"4 mm"},
      {"x":74.6,"y":204,"t":"3 mm"},
      {"x":74.6,"y":144,"t":"2 mm"},
      {"x":74.6,"y":94,"t":"1 mm"}
    ],
    "ribbon": [
      {"x":76.6,"y":37,"t":"melt-spun ribbon 30 μm"}
    ],
    "phis": [
      {"x":75.35,"y":327,"t":"ϕ"},
      {"x":75.35,"y":271,"t":"ϕ"},
      {"x":75.35,"y":212,"t":"ϕ"},
      {"x":75.35,"y":152,"t":"ϕ"},
      {"x":75.35,"y":102,"t":"ϕ"}
    ],
    "cu": [
      {"x":22.91,"y":393,"t":"Cu-Kα"}
    ]
  },
  "encoding": {
    "x": {
      "field": "x",
      "type": "quantitative",
      "scale": {"domain": [20, 80], "nice": false, "zero": false},
      "axis": {
        "title": "2θ / degree",
        "values": [20,25,30,35,40,45,50,55,60,65,70,75,80],
        "grid": false,
        "domain": false,
        "tickSize": -9,
        "tickColor": "#000",
        "tickWidth": 1,
        "labelFont": "Liberation Sans",
        "labelFontWeight": "bold",
        "labelFontSize": 15,
        "labelColor": "#000",
        "labelPadding": 23,
        "labelFlush": false,
        "titleFont": "Liberation Sans",
        "titleFontWeight": "bold",
        "titleFontSize": 18,
        "titleColor": "#000",
        "titlePadding": 8,
        "titleX": 273
      }
    },
    "y": {
      "field": "y",
      "type": "quantitative",
      "scale": {"domain": [0, 422], "nice": false, "zero": false},
      "axis": {
        "title": "Intensity (arbitrary unit)",
        "labels": false,
        "ticks": false,
        "domain": false,
        "grid": false,
        "titleFont": "Liberation Sans",
        "titleFontWeight": "bold",
        "titleFontSize": 18,
        "titleColor": "#000",
        "titlePadding": 12,
        "titleY": 234
      }
    }
  },
  "layer": [
    {
      "data": {"name": "xrd"},
      "transform": [{"fold": ["a","b","c","d","e","f"], "as": ["k","y"]}],
      "mark": {"type": "line", "color": "#000", "interpolate": "linear"},
      "encoding": {
        "detail": {"field": "k", "type": "nominal"},
        "order": {"field": "x", "type": "quantitative"},
        "strokeWidth": {
          "field": "k",
          "type": "nominal",
          "scale": {"domain": ["a","b","c","d","e","f"], "range": [1.8,1.7,1.5,1.4,1.1,1.0]},
          "legend": null
        }
      }
    },
    {
      "data": {"name": "bigmarks"},
      "mark": {"type": "point", "filled": true, "color": "#000", "opacity": 1},
      "encoding": {
        "shape": {"field": "m", "type": "nominal", "scale": null},
        "size": {"field": "s", "type": "quantitative", "scale": null}
      }
    },
    {
      "data": {"name": "legmarks"},
      "mark": {"type": "point", "filled": true, "color": "#000", "opacity": 1},
      "encoding": {
        "shape": {"field": "m", "type": "nominal", "scale": null},
        "size": {"field": "s", "type": "quantitative", "scale": null}
      }
    },
    {
      "data": {"name": "legtext"},
      "mark": {"type": "text", "align": "left", "baseline": "middle", "font": "Liberation Sans", "fontWeight": "bold", "fontSize": 13, "color": "#000"},
      "encoding": {"text": {"field": "t"}}
    },
    {
      "data": {"name": "labels"},
      "mark": {"type": "text", "align": "right", "baseline": "middle", "font": "Liberation Sans", "fontWeight": "bold", "fontSize": 15, "color": "#000"},
      "encoding": {"text": {"field": "t"}}
    },
    {
      "data": {"name": "ribbon"},
      "mark": {"type": "text", "align": "right", "baseline": "middle", "font": "Liberation Sans", "fontWeight": "bold", "fontSize": 15.5, "color": "#000"},
      "encoding": {"text": {"field": "t"}}
    },
    {
      "data": {"name": "phis"},
      "mark": {"type": "text", "align": "center", "baseline": "middle", "font": "Liberation Sans", "fontStyle": "italic", "fontSize": 9, "color": "#000"},
      "encoding": {"text": {"field": "t"}}
    },
    {
      "data": {"name": "cu"},
      "mark": {"type": "text", "align": "left", "baseline": "middle", "font": "Liberation Sans", "fontWeight": "bold", "fontSize": 17, "color": "#000"},
      "encoding": {"text": {"field": "t"}}
    }
  ]
}
